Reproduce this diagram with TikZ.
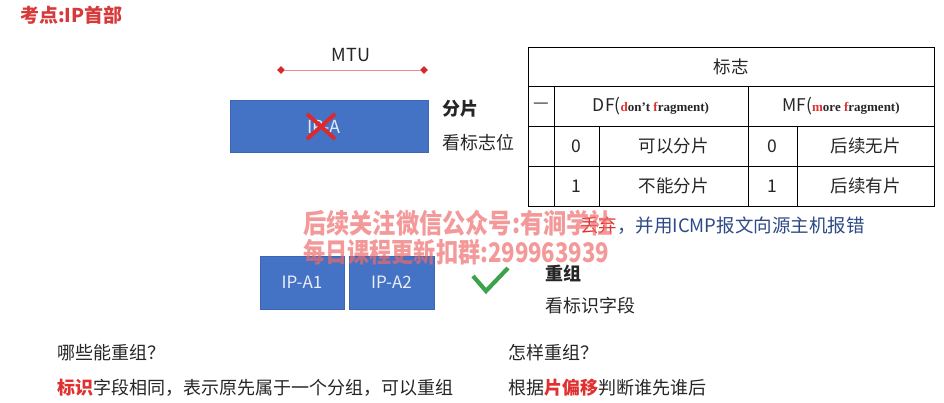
\documentclass[tikz,border=0pt]{standalone}
\usepackage{fontspec}
\setmainfont{Noto Sans CJK SC}
\newfontfamily\serifA{Liberation Serif}
\usetikzlibrary{shapes.geometric}
\definecolor{titlered}{HTML}{D63A3A}
\definecolor{xred}{HTML}{E02828}
\definecolor{linered}{HTML}{EC8C8C}
\definecolor{dotred}{HTML}{D42A2A}
\definecolor{boxblue}{HTML}{4472C4}
\definecolor{boxedge}{HTML}{3A66B4}
\definecolor{textgray}{HTML}{262626}
\definecolor{navy}{HTML}{2E4A86}
\definecolor{checkgreen}{HTML}{3DA24C}
\definecolor{wmred}{HTML}{F06A6A}
\definecolor{emred}{HTML}{E03030}
\begin{document}
\begin{tikzpicture}[x=1pt,y=-1pt,
  txt/.style={inner sep=0pt, text=textgray, font=\fontsize{18}{20}\selectfont},
  cell/.style={inner sep=0pt, text=textgray, font=\fontsize{17.5}{20}\selectfont},
  pkt/.style={draw=boxedge, line width=0.8pt, fill=boxblue, inner sep=0pt, text=white!88!boxblue, font=\fontsize{17}{20}\selectfont},
  tline/.style={line width=0.9pt, draw=black},
  enddot/.style={diamond, fill=dotred, inner sep=0pt, minimum width=8pt, minimum height=8pt},
  wm/.style={inner sep=0pt, text=wmred, opacity=0.68, font=\bfseries\fontsize{27}{29}\selectfont}
]
\useasboundingbox (0,0) rectangle (944,402);
\fill[white] (0,0) rectangle (944,402);

% title
\node[inner sep=0pt, anchor=west, text=titlered, font=\bfseries\fontsize{19}{21}\selectfont] (title) at (20,15) {考点:IP首部};

% MTU
\node[txt, font=\fontsize{18}{20}\selectfont] (mtu) at (351,55) {MTU};
\node[enddot] (mtuL) at (281,70) {};
\node[enddot] (mtuR) at (424,70) {};
\draw[linered, line width=1pt] (mtuL) -- (mtuR);

% big packet
\node[pkt, minimum width=198pt, minimum height=52pt] (ipa) at (329,126) {};
\node[inner sep=0pt, text=white!85!boxblue, font=\fontsize{18}{20}\selectfont] (ipatext) at (324,127) {IP-A};
\coordinate (x1) at (307,114);
\coordinate (x2) at (335,139);
\coordinate (x3) at (335,114);
\coordinate (x4) at (307,139);
\draw[xred, line width=3.8pt] (x1) -- (x2) (x3) -- (x4);

\node[txt, anchor=west, font=\bfseries\fontsize{18}{20}\selectfont] (fp) at (442,109) {分片};
\node[txt, anchor=west] (kbzw) at (442,143) {看标志位};

% table
\draw[tline] (528,47) rectangle (934,206);
\draw[tline] (528,86) -- (934,86);
\draw[tline] (528,126) -- (934,126);
\draw[tline] (528,166) -- (934,166);
\draw[tline] (554,86) -- (554,206);
\draw[tline] (599,126) -- (599,206);
\draw[tline] (748,86) -- (748,206);
\draw[tline] (797,126) -- (797,206);

\node[cell] (bz) at (731,67) {标志};
\node[cell] (dash) at (541,106) {—};
\node[cell] (df) at (651,106) {DF({\serifA\bfseries\fontsize{13}{15}\selectfont\textcolor{emred}{d}on’t \textcolor{emred}{f}ragment)}};
\node[cell] (mf) at (841,106) {MF({\serifA\bfseries\fontsize{13}{15}\selectfont\textcolor{emred}{m}ore \textcolor{emred}{f}ragment)}};
\node[cell] (d0) at (576.5,146) {0};
\node[cell] (d0t) at (673.5,146) {可以分片};
\node[cell] (m0) at (772.5,146) {0};
\node[cell] (m0t) at (865.5,146) {后续无片};
\node[cell] (d1) at (576.5,186) {1};
\node[cell] (d1t) at (673.5,186) {不能分片};
\node[cell] (m1) at (772.5,186) {1};
\node[cell] (m1t) at (865.5,186) {后续有片};

% discard line
\node[inner sep=0pt, anchor=west, text=navy, font=\fontsize{18.5}{20}\selectfont] (discard) at (580,226) {\textcolor{emred}{丢弃}，并用ICMP报文向源主机报错};

% fragments
\node[pkt, minimum width=84pt, minimum height=53pt] (a1) at (302,282.5) {IP-A1};
\node[pkt, minimum width=85pt, minimum height=53pt] (a2) at (391.5,282.5) {IP-A2};

\coordinate (c1) at (473,276);
\coordinate (c2) at (486,291);
\coordinate (c3) at (508,268);
\draw[checkgreen, line width=4.2pt] (c1) -- (c2) -- (c3);

\node[txt, anchor=west, font=\bfseries\fontsize{18}{20}\selectfont] (cz) at (545,273) {重组};
\node[txt, anchor=west] (kbzd) at (545,306) {看标识字段};

% bottom texts
\node[txt, anchor=west] (q1) at (57,353) {哪些能重组？};
\node[txt, anchor=west] (a1t) at (57,388) {\textcolor{emred}{\bfseries 标识}字段相同，表示原先属于一个分组，可以重组};
\node[txt, anchor=west] (q2) at (508,353) {怎样重组？};
\node[txt, anchor=west] (a2t) at (508,388) {根据\textcolor{emred}{\bfseries 片偏移}判断谁先谁后};

% watermark
\node[wm, anchor=west, xscale=0.86] (wm1) at (303,223) {后续关注微信公众号:有涧学社};
\node[wm, anchor=west, xscale=0.82] (wm2) at (303,252) {每日课程更新扣群:299963939};
\end{tikzpicture}
\end{document}
